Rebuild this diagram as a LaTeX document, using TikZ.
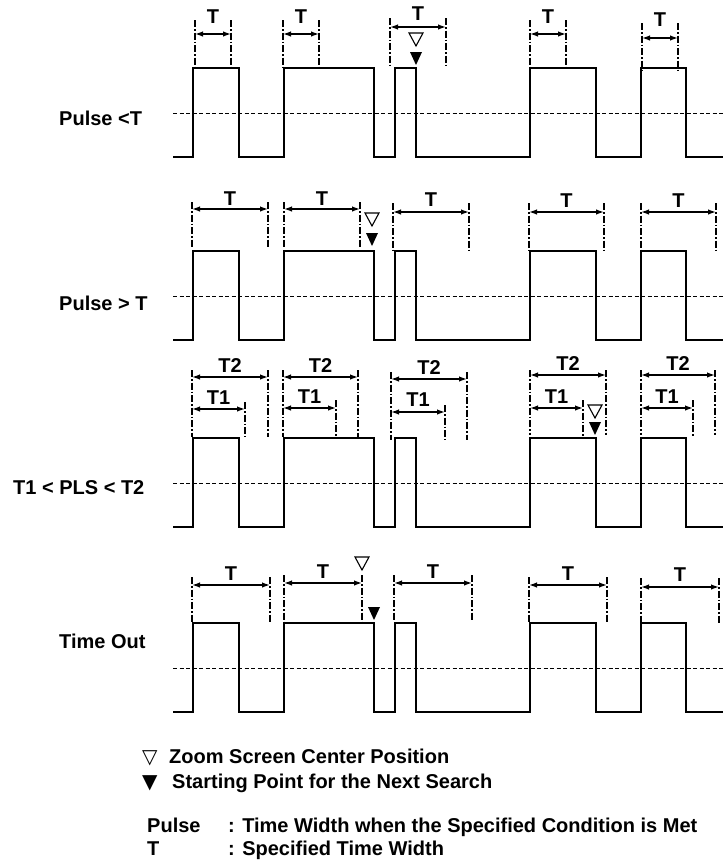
\documentclass[tikz,border=0pt]{standalone}
\usepackage{fontspec}
\setmainfont{Liberation Sans}
\newfontfamily\symfont{DejaVu Sans}
\usetikzlibrary{arrows.meta}

% width marker: name, x left, x right, line top, line bottom, arrow y, label base, text
\newcommand{\spanT}[8]{%
  \draw[dimline] (#2,#4) -- (#2,#5);
  \draw[dimline] (#3,#4) -- (#3,#5);
  \draw[dimarrow] (#2,#6) -- (#3,#6);
  \node[lbl, anchor=base] (#1) at ({(#2+#3)/2},#7) {#8};
}
% same, but the left line is shared with the marker above
\newcommand{\spanR}[8]{%
  \draw[dimline] (#3,#4) -- (#3,#5);
  \draw[dimarrow] (#2,#6) -- (#3,#6);
  \node[lbl, anchor=base] (#1) at ({(#2+#3)/2},#7) {#8};
}
% open triangle (zoom centre) and filled triangle (next search), x and top y
\newcommand{\zoomtri}[2]{\draw[line width=1.1pt] (#1-7,#2) -- (#1+7,#2) -- (#1,#2+13) -- cycle;}
\newcommand{\nexttri}[2]{\fill (#1-6,#2) -- (#1+6,#2) -- (#1,#2+13) -- cycle;}

\begin{document}
\begin{tikzpicture}[x=1pt, y=-1pt,
    wave/.style={line width=1.2pt},
    thr/.style={line width=0.9pt, dash pattern=on 4pt off 2.5pt},
    dimline/.style={line width=1.4pt, dash pattern=on 7pt off 2pt on 1.5pt off 2pt},
    dimarrow/.style={{Latex[length=8pt,width=5.5pt]}-{Latex[length=8pt,width=5.5pt]}, line width=1.4pt},
    lbl/.style={font=\fontsize{20}{24}\selectfont\bfseries, inner sep=0pt}]
  \useasboundingbox (0,0) rectangle (723,865);

  % Pulse trains and threshold, same for all four rows
  \foreach \dy in {0,183,370,555} {
    \begin{scope}[shift={(0,\dy)}]
      \draw[wave] (173,157) -- (193,157) -- (193,68) -- (239,68) -- (239,157)
        -- (284,157) -- (284,68) -- (374,68) -- (374,157) -- (395,157)
        -- (395,68) -- (416,68) -- (416,157) -- (530,157) -- (530,68)
        -- (596,68) -- (596,157) -- (641,157) -- (641,68) -- (686,68)
        -- (686,157) -- (723,157);
      \draw[thr] (173,113) -- (723,113);
    \end{scope}
  }

  % Row labels
  \node[lbl, anchor=base west] (rowA) at (59,125) {Pulse <T};
  \node[lbl, anchor=base west] (rowB) at (59,310) {Pulse > T};
  \node[lbl, anchor=base west] (rowC) at (13,494) {T1 < PLS < T2};
  \node[lbl, anchor=base west] (rowD) at (59,648) {Time Out};

  % Pulse < T
  \spanT{tA1}{195}{231}{20}{67}{34}{23}{T}
  \spanT{tA2}{283}{319}{20}{68}{34}{23}{T}
  \spanT{tA3}{390}{446}{18}{65}{27}{20}{T}
  \spanT{tA4}{530}{566}{20}{67}{34}{23}{T}
  \spanT{tA5}{642}{678}{23}{70}{38}{26}{T}
  \zoomtri{416}{33}
  \nexttri{416}{52}

  % Pulse > T
  \spanT{tB1}{192}{268}{202}{247}{209}{205}{T}
  \spanT{tB2}{284}{360}{202}{247}{209}{205}{T}
  \spanT{tB3}{393}{469}{203}{250}{212}{206}{T}
  \spanT{tB4}{529}{604}{203}{250}{212}{207}{T}
  \spanT{tB5}{641}{716}{203}{250}{212}{207}{T}
  \zoomtri{372}{213}
  \nexttri{372}{233}

  % T1 < PLS < T2
  \spanT{tC1}{192}{268}{370}{437}{377}{372}{T2}
  \spanT{tC2}{283}{358}{370}{437}{377}{372}{T2}
  \spanT{tC3}{391}{467}{372}{440}{379}{374}{T2}
  \spanT{tC4}{530}{606}{370}{435}{375}{370}{T2}
  \spanT{tC5}{641}{715}{370}{435}{375}{370}{T2}
  \spanR{uC1}{192}{245}{402}{437}{409}{404}{T1}
  \spanR{uC2}{283}{336}{400}{437}{408}{403}{T1}
  \spanR{uC3}{391}{445}{405}{440}{412}{406}{T1}
  \spanR{uC4}{530}{583}{400}{437}{408}{403}{T1}
  \spanR{uC5}{641}{693}{400}{437}{408}{403}{T1}
  \zoomtri{595}{405}
  \nexttri{595}{422}

  % Time Out
  \spanT{tD1}{192}{270}{577}{622}{585}{580}{T}
  \spanT{tD2}{284}{362}{575}{622}{583}{578}{T}
  \spanT{tD3}{394}{472}{575}{620}{583}{578}{T}
  \spanT{tD4}{529}{607}{577}{622}{585}{580}{T}
  \spanT{tD5}{641}{719}{578}{624}{587}{581}{T}
  \zoomtri{362}{557}
  \nexttri{374}{607}

  % Legend
  \node[lbl, anchor=base west] (keyZ) at (142,763) {\symfont ▽};
  \node[lbl, anchor=base west] (keyZt) at (169,763) {Zoom Screen Center Position};
  \node[lbl, anchor=base west] (keyN) at (142,788) {\symfont ▼};
  \node[lbl, anchor=base west] (keyNt) at (172,788) {Starting Point for the Next Search};
  \node[lbl, anchor=base west] (keyP) at (147,832) {Pulse};
  \node[lbl, anchor=base west] (keyPt) at (228,832) {: Time Width when the Specified Condition is Met};
  \node[lbl, anchor=base west] (keyT) at (147,855) {T};
  \node[lbl, anchor=base west] (keyTt) at (228,855) {: Specified Time Width};
\end{tikzpicture}
\end{document}
